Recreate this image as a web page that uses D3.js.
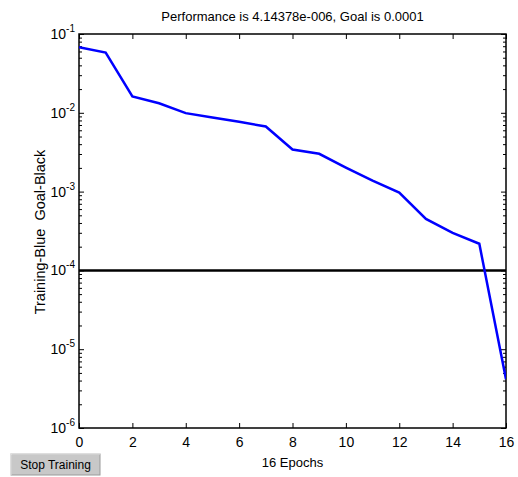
<!DOCTYPE html>
<html>
<head>
<meta charset="utf-8">
<script src="https://cdn.jsdelivr.net/npm/d3@7"></script>
<style>
  body { margin: 0; background: #fff; }
  text { font-family: "Liberation Sans", Arial, sans-serif; }
</style>
</head>
<body>
<div id="chart"></div>
<script>
// training performance per epoch
const epochs = [0, 1, 2, 3, 4, 5, 6, 7, 8, 9, 10, 11, 12, 13, 14, 15, 16];
const perf = [0.068, 0.058, 0.0161, 0.0132, 0.0099, 0.0087, 0.0077, 0.0067, 0.00342, 0.00302,
              0.00202, 0.00138, 0.00097, 0.00045, 0.0003, 0.000218, 4.14378e-6];
const goal = 0.0001;
const xTicks = [0, 2, 4, 6, 8, 10, 12, 14, 16];
const yMajor = [1e-6, 1e-5, 1e-4, 1e-3, 1e-2, 1e-1];
const yExps = ["-6", "-5", "-4", "-3", "-2", "-1"];

const W = 518, H = 477;
const pLeft = 79, pRight = 506, pTop = 34, pBottom = 428;

const svg = d3.select("#chart").append("svg")
    .attr("width", W)
    .attr("height", H);

const x = d3.scaleLinear().domain([0, 16]).range([pLeft, pRight]);
const y = d3.scaleLog().domain([1e-6, 1e-1]).range([pBottom, pTop]);

// minor ticks for log axis
const yMinor = [];
yMajor.slice(0, -1).forEach(m => {
    for (let k = 2; k <= 9; k++) yMinor.push(m * k);
});

// x axes (bottom with labels, top without)
svg.append("g")
    .attr("transform", `translate(0,${pBottom})`)
    .call(d3.axisBottom(x).tickValues(xTicks).tickSizeInner(-5).tickSizeOuter(0).tickPadding(9))
    .call(g => g.select(".domain").remove())
    .selectAll("text")
    .style("font-size", "14px")
    .style("fill", "#000");

svg.append("g")
    .attr("transform", `translate(0,${pTop})`)
    .call(d3.axisTop(x).tickValues(xTicks).tickSizeInner(-5).tickSizeOuter(0).tickFormat(""))
    .call(g => g.select(".domain").remove());

// y axes
svg.append("g")
    .attr("transform", `translate(${pLeft},0)`)
    .call(d3.axisLeft(y).tickValues(yMajor).tickSizeInner(-5).tickSizeOuter(0).tickFormat(""))
    .call(g => g.select(".domain").remove());

svg.append("g")
    .attr("transform", `translate(${pLeft},0)`)
    .call(d3.axisLeft(y).tickValues(yMinor).tickSizeInner(-3).tickSizeOuter(0).tickFormat(""))
    .call(g => g.select(".domain").remove());

svg.append("g")
    .attr("transform", `translate(${pRight},0)`)
    .call(d3.axisRight(y).tickValues(yMajor).tickSizeInner(-5).tickSizeOuter(0).tickFormat(""))
    .call(g => g.select(".domain").remove());

svg.append("g")
    .attr("transform", `translate(${pRight},0)`)
    .call(d3.axisRight(y).tickValues(yMinor).tickSizeInner(-3).tickSizeOuter(0).tickFormat(""))
    .call(g => g.select(".domain").remove());

// y labels: 10 with superscript exponent
const yLab = svg.append("g");
yMajor.forEach((v, i) => {
    const t = yLab.append("text")
        .attr("x", pLeft - 4)
        .attr("y", y(v) + 5)
        .attr("text-anchor", "end")
        .style("fill", "#000");
    t.append("tspan").style("font-size", "14px").text("10");
    t.append("tspan").style("font-size", "10px").attr("dy", -7).text(yExps[i]);
});

// frame
svg.append("rect")
    .attr("x", pLeft)
    .attr("y", pTop)
    .attr("width", pRight - pLeft)
    .attr("height", pBottom - pTop)
    .attr("fill", "none")
    .attr("stroke", "#000")
    .attr("stroke-width", 1.5);

svg.selectAll(".tick line").attr("stroke", "#000");

// clip the curve to the axes box
svg.append("clipPath").attr("id", "clip")
    .append("rect")
    .attr("x", pLeft).attr("y", pTop)
    .attr("width", pRight - pLeft).attr("height", pBottom - pTop);

// goal line
svg.append("line")
    .attr("x1", x(0)).attr("x2", x(16))
    .attr("y1", y(goal)).attr("y2", y(goal))
    .attr("stroke", "#000")
    .attr("stroke-width", 2.5);

// training curve
const line = d3.line()
    .x((d, i) => x(epochs[i]))
    .y(d => y(d));

svg.append("path")
    .datum(perf)
    .attr("clip-path", "url(#clip)")
    .attr("d", line)
    .attr("fill", "none")
    .attr("stroke", "#0000ff")
    .attr("stroke-width", 2.5);

// title and axis labels
svg.append("text")
    .attr("x", (pLeft + pRight) / 2)
    .attr("y", 21)
    .attr("text-anchor", "middle")
    .style("font-size", "13px")
    .text("Performance is 4.14378e-006, Goal is 0.0001");

svg.append("text")
    .attr("x", (pLeft + pRight) / 2)
    .attr("y", 467)
    .attr("text-anchor", "middle")
    .style("font-size", "13px")
    .text("16 Epochs");

svg.append("text")
    .attr("transform", "translate(45,232) rotate(-90)")
    .attr("text-anchor", "middle")
    .style("font-size", "14.5px")
    .style("white-space", "pre")
    .text("Training-Blue  Goal-Black");

// Stop Training button
const btn = svg.append("g").attr("transform", "translate(11,454)");
btn.append("rect")
    .attr("width", 89).attr("height", 21)
    .attr("fill", "#c8c8c8")
    .attr("stroke", "#9a9a9a");
btn.append("line").attr("x1", 0).attr("y1", 0).attr("x2", 89).attr("y2", 0).attr("stroke", "#f0f0f0");
btn.append("line").attr("x1", 0).attr("y1", 0).attr("x2", 0).attr("y2", 21).attr("stroke", "#f0f0f0");
btn.append("text")
    .attr("x", 44.5).attr("y", 15)
    .attr("text-anchor", "middle")
    .style("font-size", "12px")
    .text("Stop Training");
</script>
</body>
</html>
